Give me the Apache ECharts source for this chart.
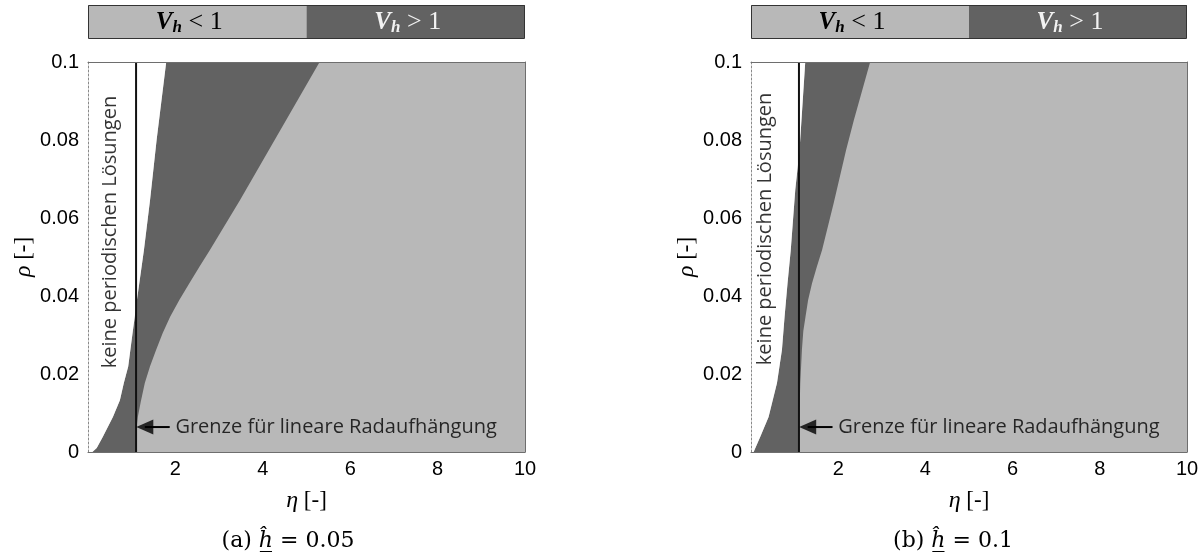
<!DOCTYPE html>
<html><head><meta charset="utf-8">
<script src="https://cdn.jsdelivr.net/npm/echarts@6/dist/echarts.min.js"></script>
<style>html,body{margin:0;padding:0;background:#fff}#c{width:1202px;height:556px}</style>
</head><body><div id="c"></div>
<script>
// ---- data ----
const etaMin = 0, etaMax = 10, etaStep = 2;
const rhoMin = 0, rhoMax = 0.1, rhoStep = 0.02;
const limitEta = 1.1;        // Grenze für lineare Radaufhängung
const arrowRho = 0.0064;
// boundary between "keine periodischen Lösungen" (white) and V_h>1 (dark), [eta, rho]
const whiteA = [[0.10,0],[0.20,0.001],[0.34,0.0039],[0.57,0.009],[0.73,0.0133],[0.82,0.0177],[0.92,0.0219],[0.97,0.0262],[1.02,0.0305],[1.07,0.0347],[1.12,0.039],[1.28,0.0518],[1.42,0.0646],[1.57,0.08],[1.79,0.1]];
// boundary between V_h>1 (dark) and V_h<1 (light)
const lightA = [[1.10,0],[1.10,0.005],[1.14,0.009],[1.21,0.013],[1.30,0.0177],[1.42,0.022],[1.56,0.0262],[1.71,0.0305],[1.88,0.0347],[2.09,0.039],[2.32,0.0433],[2.55,0.0475],[2.79,0.0518],[3.48,0.0646],[5.30,0.1]];
const whiteB = [[0.06,0],[0.213,0.0039],[0.403,0.009],[0.596,0.0177],[0.71,0.0262],[0.77,0.0347],[0.838,0.0433],[0.912,0.0518],[1.015,0.0672],[1.113,0.0774],[1.244,0.1]];
const lightB = [[1.10,0],[1.11,0.009],[1.13,0.0177],[1.168,0.0262],[1.20,0.031],[1.25,0.0347],[1.31,0.039],[1.40,0.0433],[1.51,0.0475],[1.63,0.0518],[1.90,0.064],[2.18,0.0774],[2.36,0.0851],[2.733,0.1]];
const captionLetters = ['(a)', '(b)'];
const hValues = ['0.05', '0.1'];
const legendTexts = ['<', '>'];

const LIGHT = '#b8b8b8', DARK = '#626262';
const SANS = '"Open Sans", "DejaVu Sans", sans-serif';
const SERIF = '"Liberation Serif", "DejaVu Serif", serif';
const CAPSERIF = '"DejaVu Serif", serif';

function whitePoly(w){ return [[etaMin,rhoMin]].concat(w).concat([[etaMin,rhoMax]]); }
function darkPoly(w,l){ return w.concat(l.slice().reverse()); }
function polySeries(pts, color, gi){
  return {type:'custom', coordinateSystem:'cartesian2d', xAxisIndex:gi*2, yAxisIndex:gi*2,
    data: pts, clip:true, silent:true, z:2,
    renderItem:(params, api)=> params.dataIndex===0 ? {type:'polygon', shape:{points: pts.map(p=>api.coord(p))}, style:{fill:color}} : null};
}

const grids = [{left:88, top:62, width:437, height:390, show:true, backgroundColor:LIGHT, borderWidth:0},
               {left:751, top:62, width:436, height:390, show:true, backgroundColor:LIGHT, borderWidth:0}];
const xAxes = [], yAxes = [];
const nameRich = {i:{fontFamily:SERIF, fontStyle:'italic', fontSize:24, color:'#000'}, n:{fontFamily:SERIF, fontSize:23, color:'#000'}};
grids.forEach((g,gi)=>{
  xAxes.push({type:'value', gridIndex:gi, min:etaMin, max:etaMax, interval:etaStep, position:'bottom', z:10,
    axisLine:{show:true, onZero:false, lineStyle:{color:'#6e6e6e', width:1}}, axisTick:{show:false}, splitLine:{show:false},
    axisLabel:{showMinLabel:false, color:'#000', fontSize:20, fontFamily:'"Liberation Sans", Arial, sans-serif', margin:7},
    name:'{i|η}{n| [-]}', nameLocation:'middle', nameGap:37, nameTextStyle:{rich:nameRich}});
  xAxes.push({type:'value', gridIndex:gi, min:etaMin, max:etaMax, position:'top', z:10,
    axisLine:{show:true, onZero:false, lineStyle:{color:'#6e6e6e', width:1}}, axisTick:{show:false}, splitLine:{show:false}, axisLabel:{show:false}});
  yAxes.push({type:'value', gridIndex:gi, min:rhoMin, max:rhoMax, interval:rhoStep, position:'left', z:10,
    axisLine:{show:true, onZero:false, lineStyle:{color:'#8a8a8a', width:1, type:[2,2]}}, axisTick:{show:false}, splitLine:{show:false},
    axisLabel:{color:'#000', fontSize:20, fontFamily:'"Liberation Sans", Arial, sans-serif', margin:9},
    name:'{i|ρ}{n| [-]}', nameLocation:'middle', nameGap:33, nameTextStyle:{rich:nameRich}});
  yAxes.push({type:'value', gridIndex:gi, min:rhoMin, max:rhoMax, position:'right', z:10,
    axisLine:{show:true, onZero:false, lineStyle:{color:'#6e6e6e', width:1}}, axisTick:{show:false}, splitLine:{show:false}, axisLabel:{show:false}});
});

const series = [];
[[whiteA,lightA,[0.5,0.0564]],[whiteB,lightB,[0.33,0.0572]]].forEach(([w,l,txt],gi)=>{
  series.push(polySeries(darkPoly(w,l), DARK, gi));
  series.push(polySeries(whitePoly(w), '#ffffff', gi));
  series.push({type:'line', xAxisIndex:gi*2, yAxisIndex:gi*2, data:[[limitEta,rhoMin],[limitEta,rhoMax]], symbol:'none', silent:true, z:5,
    lineStyle:{color:'#111', width:2}});
  // arrow shaft
  series.push({type:'line', xAxisIndex:gi*2, yAxisIndex:gi*2, data:[[limitEta+0.2,arrowRho],[1.87,arrowRho]], symbol:'none', silent:true, z:5,
    lineStyle:{color:'#000', width:2}});
  // arrow head + label + rotated text
  series.push({type:'scatter', xAxisIndex:gi*2, yAxisIndex:gi*2, silent:true, z:6,
    data:[
      {value:[limitEta+0.2,arrowRho], symbol:'triangle', symbolRotate:90, symbolSize:[15,17], itemStyle:{color:'#000'}},
      {value:[2.0,arrowRho], symbolSize:0, label:{show:true, position:'right', distance:0, formatter:'Grenze für lineare Radaufhängung', fontFamily:SANS, fontSize:20, color:'#000'}},
      {value:txt, symbolSize:0, label:{show:true, position:'inside', rotate:90, formatter:'keine periodischen Lösungen', fontFamily:SANS, fontSize:20, color:'#000'}}
    ]});
});

// text measuring for captions
const mctx = document.createElement('canvas').getContext('2d');
function tw(txt, font){ mctx.font = font; return mctx.measureText(txt).width; }
const capFont = '22px "DejaVu Serif"', capItal = 'italic 22px "DejaVu Serif"';

const graphic = [];
grids.forEach((g,gi)=>{
  const x0=g.left, w=g.width, half=w/2, y0=5, h=33;
  graphic.push({type:'rect', shape:{x:x0, y:y0, width:half, height:h}, style:{fill:LIGHT}});
  graphic.push({type:'rect', shape:{x:x0+half, y:y0, width:w-half, height:h}, style:{fill:DARK}});
  graphic.push({type:'rect', shape:{x:x0+0.5, y:y0+0.5, width:w-1, height:h}, style:{fill:'none', stroke:'#333', lineWidth:1}});
  [0,1].forEach(k=>{
    const col = k===0 ? '#000' : '#f2f2f2';
    graphic.push({type:'text', x:x0+half*k+half/2 - 8, y:y0+h/2+1, style:{
      text:'{v|V}{s|h}{t| '+legendTexts[k]+' 1}', align:'center', verticalAlign:'middle',
      rich:{v:{fontFamily:SERIF, fontStyle:'italic', fontWeight:'bold', fontSize:25, fill:col},
            s:{fontFamily:SERIF, fontStyle:'italic', fontWeight:'bold', fontSize:17, fill:col, padding:[10,0,0,0]},
            t:{fontFamily:SERIF, fontSize:26, fill:col}}}});
  });
  // caption  "(a) ĥ = 0.05"  with underlined h-hat
  const p1 = captionLetters[gi] + ' ', p2 = 'ĥ', p3 = ' = ' + hValues[gi];
  const w1 = tw(p1, capFont), w2 = tw(p2, capItal), w3 = tw(p3, capFont);
  const cx = [288,953][gi], cy = 541;
  const sx = cx - (w1+w2+w3)/2;
  graphic.push({type:'text', x:sx, y:cy, style:{text:p1, font:capFont, fill:'#000', align:'left', verticalAlign:'middle'}});
  graphic.push({type:'text', x:sx+w1, y:cy, style:{text:p2, font:capItal, fill:'#000', align:'left', verticalAlign:'middle'}});
  graphic.push({type:'text', x:sx+w1+w2, y:cy, style:{text:p3, font:capFont, fill:'#000', align:'left', verticalAlign:'middle'}});
  graphic.push({type:'line', shape:{x1:sx+w1+1, y1:551.5, x2:sx+w1+w2-1, y2:551.5}, style:{stroke:'#000', lineWidth:1}});
});

const chart = echarts.init(document.getElementById('c'), null, {renderer:'canvas'});
chart.setOption({animation:false, backgroundColor:'#fff', grid:grids, xAxis:xAxes, yAxis:yAxes, series, graphic});
</script></body></html>
